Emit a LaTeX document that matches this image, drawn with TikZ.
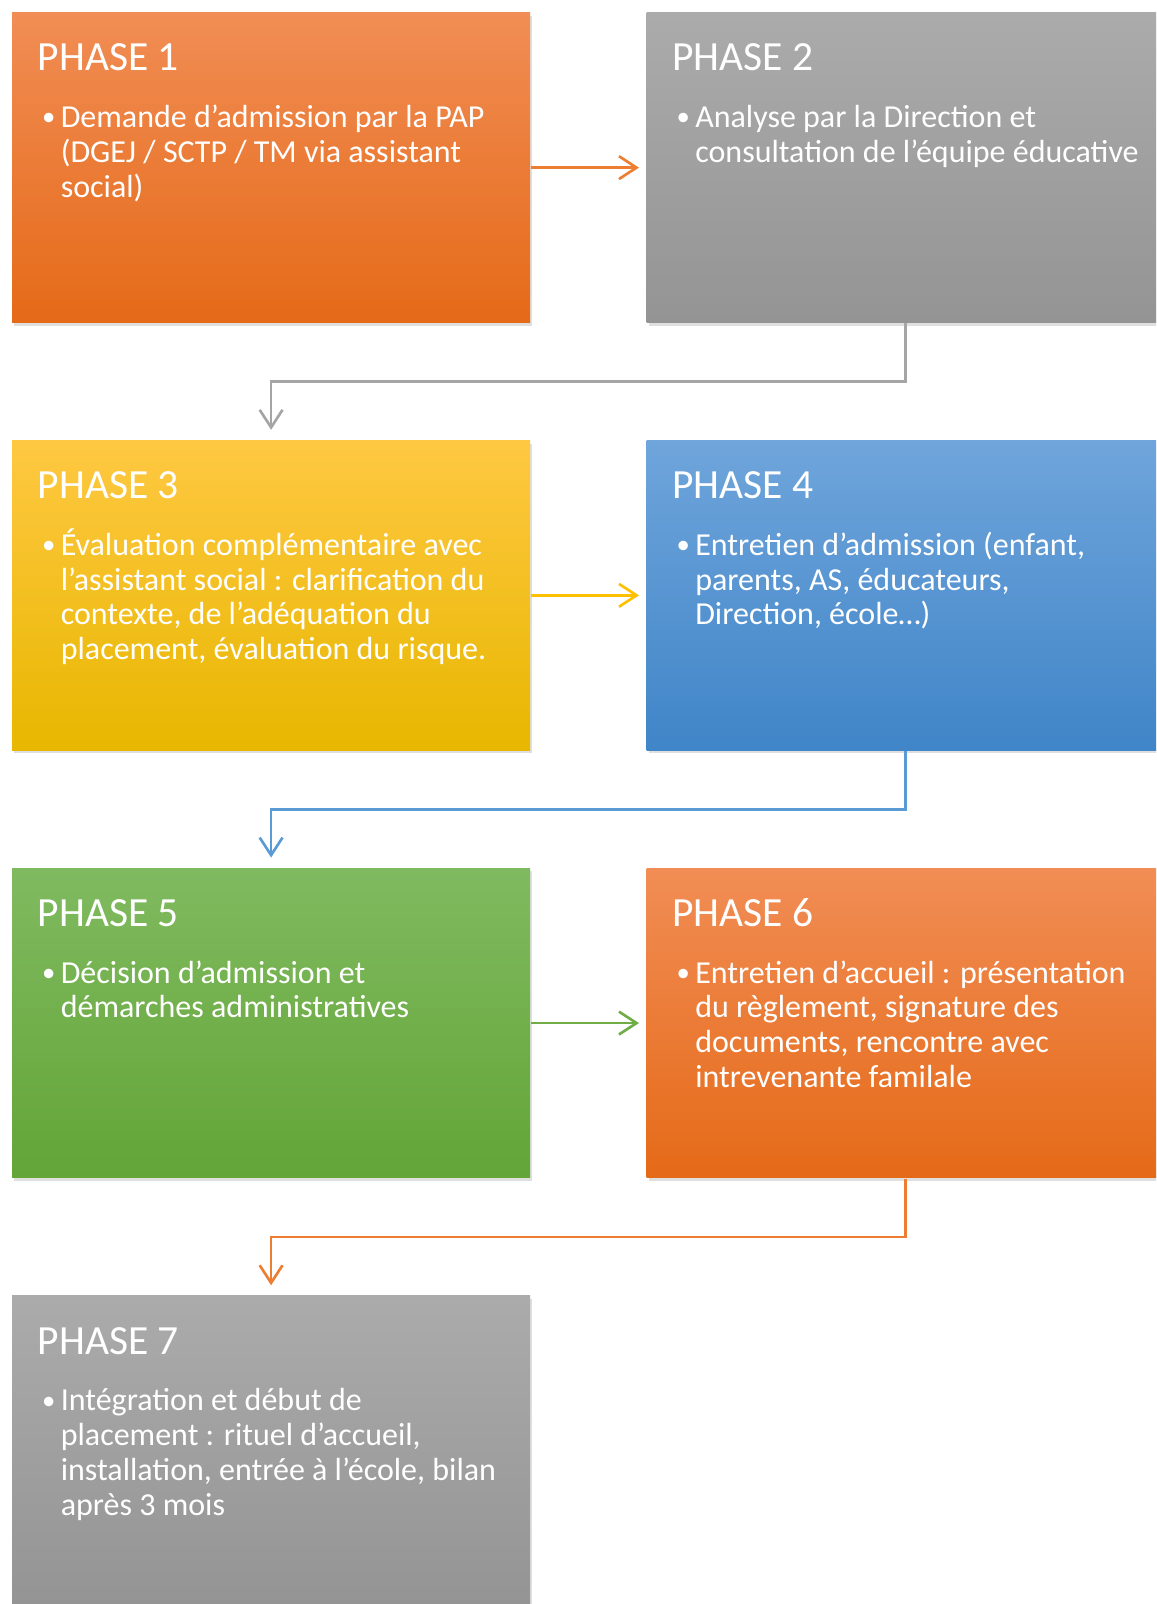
\documentclass[tikz,border=0pt]{standalone}
\usepackage{fontspec}
\setmainfont{Carlito}
\usetikzlibrary{calc}
\usetikzlibrary{arrows.meta}
\usetikzlibrary{shadows}

\definecolor{orangeT}{RGB}{241,141,85}
\definecolor{orangeB}{RGB}{229,106,24}
\definecolor{grayT}{RGB}{171,171,171}
\definecolor{grayB}{RGB}{148,148,148}
\definecolor{yellowT}{RGB}{255,200,66}
\definecolor{yellowB}{RGB}{231,183,0}
\definecolor{blueT}{RGB}{111,165,219}
\definecolor{blueB}{RGB}{64,133,200}
\definecolor{greenT}{RGB}{128,186,96}
\definecolor{greenB}{RGB}{99,165,55}
\definecolor{conorange}{RGB}{237,125,49}
\definecolor{congray}{RGB}{165,165,165}
\definecolor{conyellow}{RGB}{255,192,0}
\definecolor{conblue}{RGB}{91,155,213}
\definecolor{congreen}{RGB}{112,173,71}

\begin{document}
\begin{tikzpicture}[x=0.01cm,y=-0.01cm,
    phasebox/.style={anchor=north west,minimum width=5.175cm,minimum height=3.097cm,
        inner sep=0pt,draw=none,drop shadow={shadow xshift=0.6pt,shadow yshift=-0.9pt,opacity=0.25}},
    orangebox/.style={top color=orangeT,bottom color=orangeB},
    graybox/.style={top color=grayT,bottom color=grayB},
    yellowbox/.style={top color=yellowT,bottom color=yellowB},
    bluebox/.style={top color=blueT,bottom color=blueB},
    greenbox/.style={top color=greenT,bottom color=greenB},
    phasetitle/.style={anchor=base west,inner sep=0pt,text=white,font=\fontsize{11.8}{12}\selectfont},
    bulletdot/.style={anchor=base west,inner sep=0pt,text=white,font=\fontsize{7.6}{9.9}\selectfont},
    phasebody/.style={anchor=base west,inner sep=0pt,text=white,align=left,font=\fontsize{9.1}{9.9}\selectfont},
    con/.style={line width=0.75pt,-{Straight Barb[length=5pt,width=6.5pt]}}]
\clip (0,0) rectangle (1156,1604);
\fill[white] (0,0) rectangle (1156,1604);

% boxes
\node[phasebox,orangebox] (p1) at (11.5,12) {};
\node[phasebox,graybox]   (p2) at (646,12) {};
\node[phasebox,yellowbox] (p3) at (11.5,439.7) {};
\node[phasebox,bluebox]   (p4) at (646,439.7) {};
\node[phasebox,greenbox]  (p5) at (11.5,867.4) {};
\node[phasebox,orangebox] (p6) at (646,867.4) {};
\node[phasebox,graybox]   (p7) at (11.5,1295.1) {};

% texts (body nodes sit on the baseline of their last line)
\node[phasetitle] at ($(p1.north west)+(25.6,59)$) {PHASE 1};
\node[bulletdot] at ($(p1.north west)+(30,114)$) {•};
\node[phasebody] (b1) at ($(p1.north west)+(48.6,185.3)$) {Demande d’admission par la PAP\\(DGEJ / SCTP / TM via assistant\\social)};

\node[phasetitle] at ($(p2.north west)+(25.6,59)$) {PHASE 2};
\node[bulletdot] at ($(p2.north west)+(30,114)$) {•};
\node[phasebody] (b2) at ($(p2.north west)+(48.6,150.5)$) {Analyse par la Direction et\\consultation de l’équipe éducative};

\node[phasetitle] at ($(p3.north west)+(25.6,59)$) {PHASE 3};
\node[bulletdot] at ($(p3.north west)+(30,114)$) {•};
\node[phasebody] (b3) at ($(p3.north west)+(48.6,220.1)$) {Évaluation complémentaire avec\\l’assistant social : clarification du\\contexte, de l’adéquation du\\placement, évaluation du risque.};

\node[phasetitle] at ($(p4.north west)+(25.6,59)$) {PHASE 4};
\node[bulletdot] at ($(p4.north west)+(30,114)$) {•};
\node[phasebody] (b4) at ($(p4.north west)+(48.6,185.3)$) {Entretien d’admission (enfant,\\parents, AS, éducateurs,\\Direction, école…)};

\node[phasetitle] at ($(p5.north west)+(25.6,59)$) {PHASE 5};
\node[bulletdot] at ($(p5.north west)+(30,114)$) {•};
\node[phasebody] (b5) at ($(p5.north west)+(48.6,150.5)$) {Décision d’admission et\\démarches administratives};

\node[phasetitle] at ($(p6.north west)+(25.6,59)$) {PHASE 6};
\node[bulletdot] at ($(p6.north west)+(30,114)$) {•};
\node[phasebody] (b6) at ($(p6.north west)+(48.6,220.1)$) {Entretien d’accueil : présentation\\du règlement, signature des\\documents, rencontre avec\\intrevenante familale};

\node[phasetitle] at ($(p7.north west)+(25.6,59)$) {PHASE 7};
\node[bulletdot] at ($(p7.north west)+(30,114)$) {•};
\node[phasebody] (b7) at ($(p7.north west)+(48.6,220.1)$) {Intégration et début de\\placement : rituel d’accueil,\\installation, entrée à l’école, bilan\\après 3 mois};

% connectors
\draw[con,conorange,shorten >=2pt] (p1.east) -- (p2.west);
\draw[con,congray,shorten >=2.8pt] (p2.south) |- ($(p1.south)!0.5!(p3.north)$) -- (p3.north);
\draw[con,conyellow,shorten >=2pt] (p3.east) -- (p4.west);
\draw[con,conblue,shorten >=2.8pt] (p4.south) |- ($(p3.south)!0.5!(p5.north)$) -- (p5.north);
\draw[con,congreen,shorten >=2pt] (p5.east) -- (p6.west);
\draw[con,conorange,shorten >=2.8pt] (p6.south) |- ($(p5.south)!0.5!(p7.north)$) -- (p7.north);
\end{tikzpicture}
\end{document}
